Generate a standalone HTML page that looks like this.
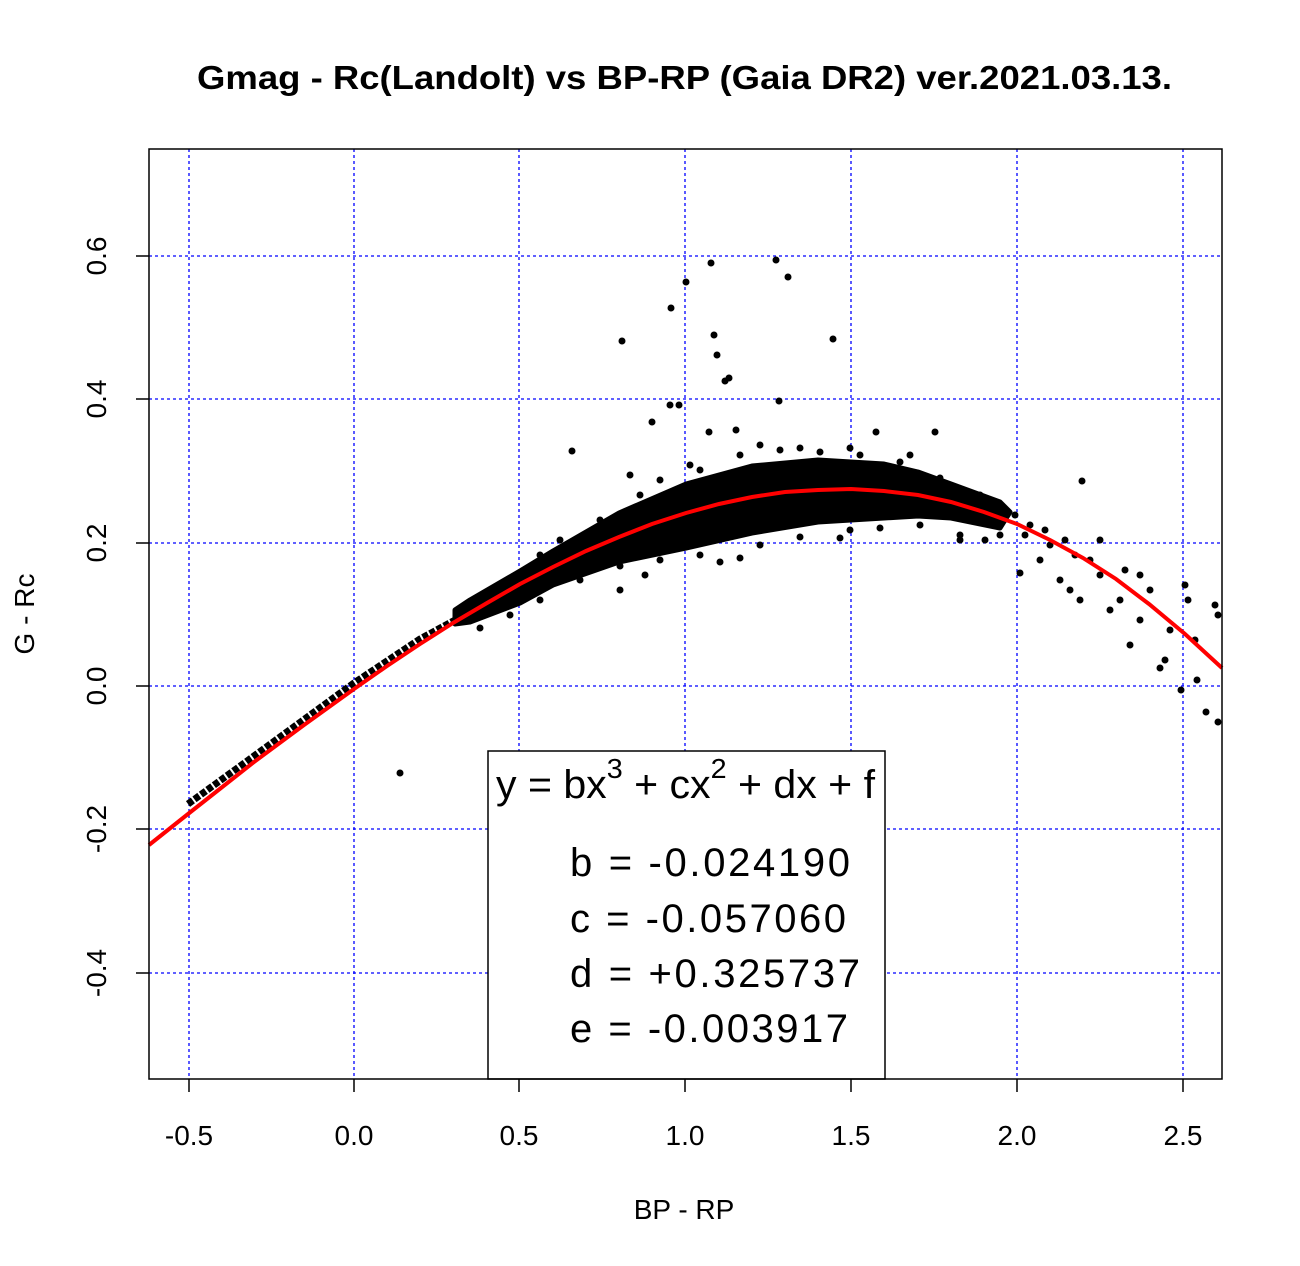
<!DOCTYPE html>
<html><head><meta charset="utf-8"><style>
html,body{margin:0;padding:0;background:#fff;width:1300px;height:1266px;overflow:hidden}
svg{display:block;font-family:"Liberation Sans",Arial,sans-serif}
</style></head><body>
<svg width="1300" height="1266" viewBox="0 0 1300 1266">
<rect width="1300" height="1266" fill="#fff"/>
<text x="197" y="89" font-size="33" font-weight="bold" textLength="975" lengthAdjust="spacingAndGlyphs">Gmag - Rc(Landolt) vs BP-RP (Gaia DR2) ver.2021.03.13.</text>
<g stroke="#0000ff" stroke-width="1.3" stroke-dasharray="3,3">
<line x1="189" y1="149" x2="189" y2="1079"/><line x1="354" y1="149" x2="354" y2="1079"/>
<line x1="519" y1="149" x2="519" y2="1079"/><line x1="685" y1="149" x2="685" y2="1079"/>
<line x1="851" y1="149" x2="851" y2="1079"/><line x1="1017" y1="149" x2="1017" y2="1079"/>
<line x1="1183" y1="149" x2="1183" y2="1079"/>
<line x1="149" y1="256" x2="1222" y2="256"/><line x1="149" y1="399" x2="1222" y2="399"/>
<line x1="149" y1="543" x2="1222" y2="543"/><line x1="149" y1="686" x2="1222" y2="686"/>
<line x1="149" y1="829" x2="1222" y2="829"/><line x1="149" y1="973" x2="1222" y2="973"/>
</g>
<polygon fill="#000" stroke="#000" stroke-width="5" stroke-linejoin="round" points="455,610 470,600 520,571 553,551 619,513 686,484 752,466 818,460 884,464 918,472 951,484 1000,502 1010,512 1000,528 951,518 918,516 884,518 818,522 752,533 686,548 619,562 553,585 520,603 470,622 455,624"/>
<polyline fill="none" stroke="#000" stroke-width="7" stroke-dasharray="6,2" points="188,804 254,756 354,683 420,639 470,612"/>
<g fill="#000">
<circle cx="622" cy="341" r="3.5"/><circle cx="671" cy="308" r="3.5"/><circle cx="686" cy="282" r="3.5"/><circle cx="711" cy="263" r="3.5"/><circle cx="776" cy="260" r="3.5"/><circle cx="788" cy="277" r="3.5"/><circle cx="833" cy="339" r="3.5"/><circle cx="714" cy="335" r="3.5"/><circle cx="717" cy="355" r="3.5"/><circle cx="725" cy="381" r="3.5"/><circle cx="729" cy="378" r="3.5"/><circle cx="779" cy="401" r="3.5"/><circle cx="670" cy="405" r="3.5"/><circle cx="679" cy="405" r="3.5"/><circle cx="652" cy="422" r="3.5"/><circle cx="709" cy="432" r="3.5"/><circle cx="736" cy="430" r="3.5"/><circle cx="876" cy="432" r="3.5"/><circle cx="935" cy="432" r="3.5"/><circle cx="1082" cy="481" r="3.5"/><circle cx="572" cy="451" r="3.5"/><circle cx="400" cy="773" r="3.5"/><circle cx="1181" cy="690" r="3.5"/><circle cx="1218" cy="722" r="3.5"/><circle cx="1206" cy="712" r="3.5"/><circle cx="1197" cy="680" r="3.5"/>
<circle cx="1020" cy="573" r="3.5"/><circle cx="1040" cy="560" r="3.5"/><circle cx="1060" cy="580" r="3.5"/><circle cx="1070" cy="590" r="3.5"/><circle cx="1080" cy="600" r="3.5"/><circle cx="1090" cy="560" r="3.5"/><circle cx="1100" cy="575" r="3.5"/><circle cx="1110" cy="610" r="3.5"/><circle cx="1120" cy="600" r="3.5"/><circle cx="1130" cy="645" r="3.5"/><circle cx="1140" cy="620" r="3.5"/><circle cx="1150" cy="590" r="3.5"/><circle cx="1160" cy="668" r="3.5"/><circle cx="1165" cy="660" r="3.5"/><circle cx="1170" cy="630" r="3.5"/><circle cx="1185" cy="585" r="3.5"/><circle cx="1188" cy="600" r="3.5"/><circle cx="1195" cy="640" r="3.5"/><circle cx="1215" cy="605" r="3.5"/><circle cx="1218" cy="615" r="3.5"/><circle cx="1050" cy="545" r="3.5"/><circle cx="1075" cy="555" r="3.5"/><circle cx="1100" cy="540" r="3.5"/><circle cx="1125" cy="570" r="3.5"/><circle cx="1140" cy="575" r="3.5"/><circle cx="1003" cy="520" r="3.5"/><circle cx="1030" cy="525" r="3.5"/><circle cx="985" cy="540" r="3.5"/><circle cx="960" cy="535" r="3.5"/><circle cx="1015" cy="515" r="3.5"/><circle cx="1025" cy="535" r="3.5"/><circle cx="1045" cy="530" r="3.5"/><circle cx="1065" cy="540" r="3.5"/>
<circle cx="560" cy="540" r="3.5"/><circle cx="600" cy="520" r="3.5"/><circle cx="640" cy="495" r="3.5"/><circle cx="660" cy="480" r="3.5"/><circle cx="700" cy="470" r="3.5"/><circle cx="740" cy="455" r="3.5"/><circle cx="780" cy="450" r="3.5"/><circle cx="820" cy="452" r="3.5"/><circle cx="860" cy="455" r="3.5"/><circle cx="900" cy="462" r="3.5"/><circle cx="940" cy="478" r="3.5"/><circle cx="980" cy="495" r="3.5"/><circle cx="630" cy="475" r="3.5"/><circle cx="690" cy="465" r="3.5"/><circle cx="760" cy="445" r="3.5"/><circle cx="800" cy="448" r="3.5"/><circle cx="850" cy="448" r="3.5"/><circle cx="910" cy="455" r="3.5"/><circle cx="540" cy="555" r="3.5"/><circle cx="500" cy="585" r="3.5"/>
<circle cx="540" cy="600" r="3.5"/><circle cx="580" cy="580" r="3.5"/><circle cx="620" cy="566" r="3.5"/><circle cx="660" cy="560" r="3.5"/><circle cx="700" cy="555" r="3.5"/><circle cx="720" cy="562" r="3.5"/><circle cx="760" cy="545" r="3.5"/><circle cx="800" cy="537" r="3.5"/><circle cx="850" cy="530" r="3.5"/><circle cx="880" cy="528" r="3.5"/><circle cx="920" cy="525" r="3.5"/><circle cx="960" cy="540" r="3.5"/><circle cx="1000" cy="535" r="3.5"/><circle cx="620" cy="590" r="3.5"/><circle cx="645" cy="575" r="3.5"/><circle cx="740" cy="558" r="3.5"/><circle cx="840" cy="538" r="3.5"/><circle cx="510" cy="615" r="3.5"/><circle cx="480" cy="628" r="3.5"/>
</g>
<path fill="none" stroke="#ff0000" stroke-width="4" d="M149,845 L188,814 L221,788 L254,762 L304,725 L354,689 L387,666 L420,644 L453,623 L487,603 L520,584 L553,567 L586,551 L619,537 L652,524 L686,513 L719,504 L752,497 L785,492 L818,490 L851,489 L884,491 L918,495 L951,502 L984,512 L1017,524 L1050,540 L1083,558 L1116,579 L1149,604 L1185,634 L1222,668"/>
<rect x="488" y="751" width="397" height="328" fill="#fff" stroke="#000" stroke-width="1.5"/>
<text x="496" y="798" font-size="40" textLength="379" lengthAdjust="spacingAndGlyphs">y = bx<tspan dy="-20" font-size="28">3</tspan><tspan dy="20"> + cx</tspan><tspan dy="-20" font-size="28">2</tspan><tspan dy="20"> + dx + f</tspan></text>
<g font-size="40" lengthAdjust="spacingAndGlyphs">
<text x="570" y="876" textLength="280">b = -0.024190</text>
<text x="570" y="932" textLength="276">c = -0.057060</text>
<text x="570" y="987" textLength="290">d = +0.325737</text>
<text x="570" y="1042" textLength="278">e = -0.003917</text>
</g>
<rect x="149" y="149" width="1073" height="930" fill="none" stroke="#000" stroke-width="1.5"/>
<g stroke="#000" stroke-width="1.5">
<line x1="189" y1="1079" x2="189" y2="1092"/><line x1="354" y1="1079" x2="354" y2="1092"/>
<line x1="519" y1="1079" x2="519" y2="1092"/><line x1="685" y1="1079" x2="685" y2="1092"/>
<line x1="851" y1="1079" x2="851" y2="1092"/><line x1="1017" y1="1079" x2="1017" y2="1092"/>
<line x1="1183" y1="1079" x2="1183" y2="1092"/>
<line x1="136" y1="256" x2="149" y2="256"/><line x1="136" y1="399" x2="149" y2="399"/>
<line x1="136" y1="543" x2="149" y2="543"/><line x1="136" y1="686" x2="149" y2="686"/>
<line x1="136" y1="829" x2="149" y2="829"/><line x1="136" y1="973" x2="149" y2="973"/>
</g>
<g font-size="28" text-anchor="middle">
<text x="189" y="1145">-0.5</text><text x="354" y="1145">0.0</text><text x="519" y="1145">0.5</text>
<text x="685" y="1145">1.0</text><text x="851" y="1145">1.5</text><text x="1017" y="1145">2.0</text>
<text x="1183" y="1145">2.5</text>
<text transform="translate(106,256) rotate(-90)">0.6</text>
<text transform="translate(106,399) rotate(-90)">0.4</text>
<text transform="translate(106,543) rotate(-90)">0.2</text>
<text transform="translate(106,686) rotate(-90)">0.0</text>
<text transform="translate(106,829) rotate(-90)">-0.2</text>
<text transform="translate(106,973) rotate(-90)">-0.4</text>
<text x="684" y="1219">BP - RP</text>
<text transform="translate(34,614) rotate(-90)">G - Rc</text>
</g>
</svg>
</body></html>
